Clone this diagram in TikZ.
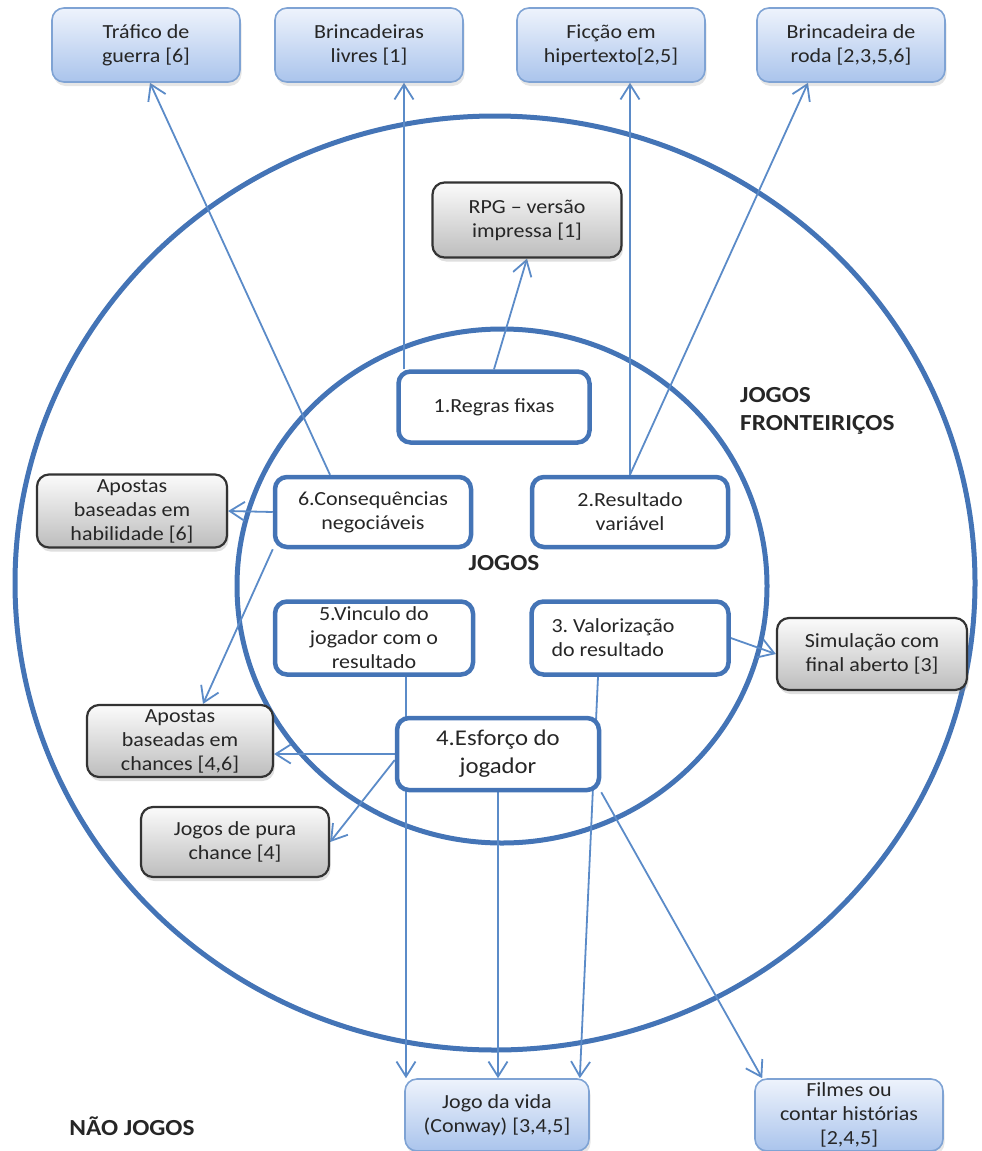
\documentclass[tikz,border=0pt]{standalone}
\usepackage{fontspec}
\setmainfont{Carlito}[FakeStretch=1.1]
\usetikzlibrary{arrows.meta,shadows,calc}
\frenchspacing

\definecolor{ringcol}{HTML}{4474B6}
\definecolor{linkcol}{HTML}{5B8BC8}
\definecolor{ink}{HTML}{262626}
\definecolor{bluetop}{HTML}{EEF3FC}
\definecolor{bluebot}{HTML}{AAC4EC}
\definecolor{blueedge}{HTML}{7FA3D4}
\definecolor{graytop}{HTML}{FBFBFB}
\definecolor{graybot}{HTML}{BDBDBD}
\definecolor{grayedge}{HTML}{333333}

\pgfdeclarelayer{under}
\pgfsetlayers{under,main}

\tikzset{
  txt/.style={font=\frenchspacing\fontsize{20}{24}\selectfont, text=ink, align=center, inner sep=0pt},
  bluebox/.style={txt, draw=blueedge, line width=1.6pt, rounded corners=12pt,
    top color=bluetop, bottom color=bluebot, minimum width=188pt, minimum height=74pt,
    drop shadow={opacity=0.2, shadow xshift=1.5pt, shadow yshift=-4pt}},
  graybox/.style={txt, draw=grayedge, line width=2.2pt, rounded corners=12pt,
    top color=graytop, bottom color=graybot, minimum width=190pt, minimum height=73pt,
    drop shadow={opacity=0.25, shadow xshift=1.5pt, shadow yshift=-4pt}},
  critbox/.style={txt, draw=ringcol, line width=4.5pt, rounded corners=12pt, fill=white},
  ringline/.style={draw=ringcol, line width=5pt},
  link/.style={draw=linkcol, line width=1.8pt, -{Straight Barb[length=15pt,width=19pt]}},
  zonetext/.style={font=\bfseries\fontsize{23}{28}\selectfont, text=ink, inner sep=0pt, align=left}
}

\begin{document}
\begin{tikzpicture}[x=1pt,y=-1pt]
\useasboundingbox (0,0) rectangle (982,1151);

% the two zones: games and border games
\begin{pgfonlayer}{under}
\draw[ringline] (495,583) ellipse [x radius=480, y radius=467];
\draw[ringline] (502,586) ellipse [x radius=265, y radius=257];
\end{pgfonlayer}

% the six criteria
\node[critbox, minimum width=191pt, minimum height=71pt] (b1) at (494,407) {1.Regras fixas};
\node[critbox, minimum width=196pt, minimum height=70pt] (b6) at (373,512) {6.Consequências\\negociáveis};
\node[critbox, minimum width=196pt, minimum height=70pt] (b2) at (630,512) {2.Resultado\\variável};
\node[critbox, minimum width=198pt, minimum height=73pt] (b5) at (374,638) {5.Vinculo do\\jogador com o\\resultado};
\node[critbox, minimum height=73pt, text width=157pt, inner xsep=20pt, align=flush left] (b3) at (630,638) {3. Valorização\\do resultado};
\node[critbox, minimum width=202pt, minimum height=72pt, font=\fontsize{22.5}{28}\selectfont] (b4) at (498,754) {4.Esforço do\\jogador};

% zone labels
\node[zonetext] (jogos) at (504,563) {JOGOS};
\node[zonetext, anchor=west] (fronteira) at (740,411) {JOGOS\\FRONTEIRIÇOS};
\node[zonetext] (naojogos) at (132,1126) {NÃO JOGOS};

% examples outside the border
\node[bluebox] (traf) at (146,45) {Tráfico de\\guerra [6]};
\node[bluebox] (brinc) at (369,45) {Brincadeiras\\livres [1]};
\node[bluebox] (ficcao) at (611,45) {Ficção em\\hipertexto[2,5]};
\node[bluebox] (roda) at (851,45) {Brincadeira de\\roda [2,3,5,6]};
\node[bluebox, minimum width=184pt, minimum height=72pt] (vida) at (497,1115) {Jogo da vida\\(Conway) [3,4,5]};
\node[bluebox, minimum height=72pt] (filmes) at (849,1115) {Filmes ou\\contar histórias\\{}[2,4,5]};

% border games
\node[graybox, minimum width=189pt, minimum height=75pt] (rpg) at (527,220) {RPG – versão\\impressa [1]};
\node[graybox] (habil) at (132,511) {Apostas\\baseadas em\\habilidade [6]};
\node[graybox, minimum width=186pt, minimum height=72pt] (chances) at (180,741) {Apostas\\baseadas em\\chances [4,6]};
\node[graybox, minimum width=188pt, minimum height=70pt] (pura) at (235,842) {Jogos de pura\\chance [4]};
\node[graybox, minimum height=72pt] (simul) at (872,654) {Simulação com\\final aberto [3]};

% which criterion each example lacks
\begin{pgfonlayer}{under}
\draw[link] ([xshift=-43pt]b6.north) -- ([xshift=4pt]traf.south);
\draw[link] ([xshift=-90pt]b1.north) -- ([xshift=-90pt]b1.north |- brinc.south);
\draw[link] (b1.north) -- (rpg.south);
\draw[link] (b2.north) -- (b2.north |- ficcao.south);
\draw[link] (b2.north) -- ([xshift=-43pt]roda.south);
\draw[link] (b6.west) -- (habil.east);
\draw[link] (b6.south west) -- ([xshift=23pt]chances.north);
\draw[link] (b3.east) -- (simul.west);
\draw[link] (b4.west) -- (b4.west -| chances.east);
\draw[link] ([yshift=-6pt]b4.west) -- (pura.east);
\draw[link] ([xshift=32pt]b5.south) -- ([xshift=32pt]b5.south |- vida.north);
\draw[link] (b4.south) -- (b4.south |- vida.north);
\draw[link] ([xshift=-32pt]b3.south) -- ([xshift=-10pt]vida.north east);
\draw[link] (b4.south east) -- ([xshift=8pt]filmes.north west);
\end{pgfonlayer}
\end{tikzpicture}
\end{document}
